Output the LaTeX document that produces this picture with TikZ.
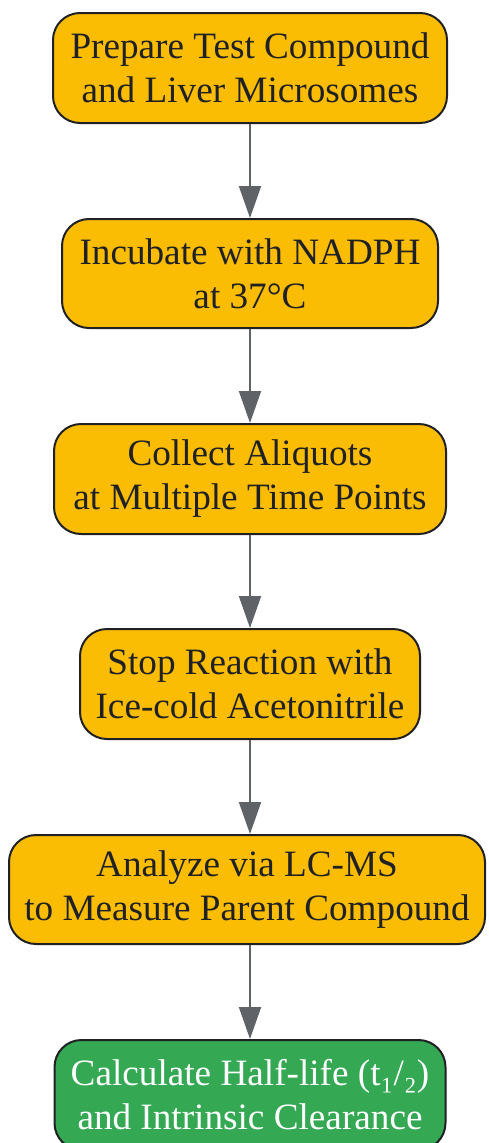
\documentclass[tikz,border=0pt]{standalone}
\usepackage{fontspec}
\setmainfont{Liberation Serif}
\usetikzlibrary{arrows.meta}
\definecolor{yel}{HTML}{FBBC04}
\definecolor{grn}{HTML}{34A853}
\definecolor{edge}{HTML}{202124}
\definecolor{arr}{HTML}{5F6368}
\tikzset{
  stepbox/.style={draw=edge, line width=2pt, fill=yel, rounded corners=27pt,
    align=center, text=edge, inner sep=0pt,
    font=\fontsize{37.2}{44}\selectfont},
  endbox/.style={stepbox, fill=grn, text=white},
  conn/.style={draw=arr, line width=2pt, -{Triangle[length=32pt,width=22pt]}}
}
\begin{document}
\begin{tikzpicture}[x=1pt,y=1pt]
\useasboundingbox (0,0) rectangle (488,-1143);
\node[stepbox, minimum width=394pt, minimum height=110pt] (b1) at (250,-68) {Prepare Test Compound\\and Liver Microsomes};
\node[stepbox, minimum width=376pt, minimum height=109pt] (b2) at (250,-273.5) {Incubate with NADPH\\at 37°C};
\node[stepbox, minimum width=392pt, minimum height=110pt] (b3) at (250,-479) {Collect Aliquots\\at Multiple Time Points};
\node[stepbox, minimum width=340pt, minimum height=110pt] (b4) at (250,-684) {Stop Reaction with\\Ice-cold Acetonitrile};
\node[stepbox, minimum width=476pt, minimum height=109pt] (b5) at (247,-889.5) {Analyze via LC-MS\\to Measure Parent Compound};
\node[endbox, minimum width=391pt, minimum height=110pt] (b6) at (250,-1095) {Calculate Half-life (t₁/₂)\\and Intrinsic Clearance};
\draw[conn] (b1.south) -- (b2.north);
\draw[conn] (b2.south) -- (b3.north);
\draw[conn] (b3.south) -- (b4.north);
\draw[conn] (b4.south) -- (b4.south |- b5.north);
\draw[conn] (b4.south |- b5.south) -- (b6.north);
\end{tikzpicture}
\end{document}
